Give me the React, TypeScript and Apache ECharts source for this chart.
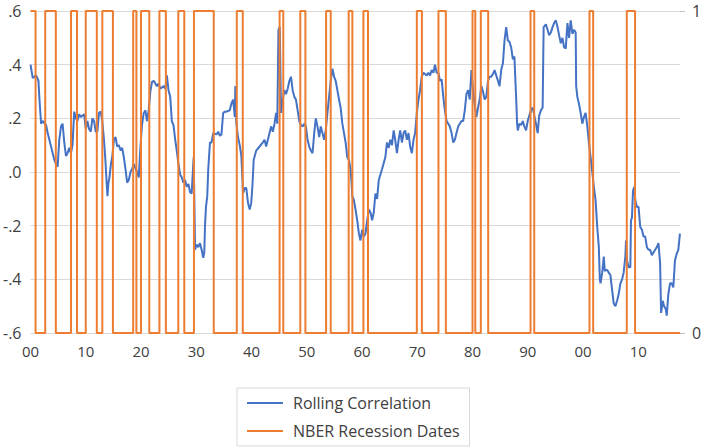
import React, { useEffect, useRef } from "react";
import * as echarts from "echarts";

// Time span shown on the horizontal axis (decimal years)
const xStart = 1900;
const xEnd = 2017.55;

// NBER business-cycle peaks and troughs (year-month)
const recessionPeaks = [
  "1899-06", "1902-09", "1907-05", "1910-01", "1913-01", "1918-08", "1920-01",
  "1923-05", "1926-10", "1929-08", "1937-05", "1945-02", "1948-11", "1953-07",
  "1957-08", "1960-04", "1969-12", "1973-11", "1980-01", "1981-07", "1990-07",
  "2001-03", "2007-12",
];
const recessionTroughs = [
  "1900-12", "1904-08", "1908-06", "1912-01", "1914-12", "1919-03", "1921-07",
  "1924-07", "1927-11", "1933-03", "1938-06", "1945-10", "1949-10", "1954-05",
  "1958-04", "1961-02", "1970-11", "1975-03", "1980-07", "1982-11", "1991-03",
  "2001-11", "2009-06",
];

// Rolling correlation: [decimal year, correlation]
const rollingCorrelation: [number, number][] = [
  [1900.0, 0.4], [1900.41, 0.35], [1901.02, 0.36], [1901.44, 0.34], [1901.62, 0.27],
  [1901.92, 0.18], [1902.21, 0.19], [1902.82, 0.175], [1903.11, 0.145], [1903.72, 0.095],
  [1904.31, 0.045], [1904.62, 0.03], [1904.91, 0.02], [1905.21, 0.12], [1905.52, 0.17],
  [1905.81, 0.18], [1906.11, 0.11], [1906.42, 0.06], [1906.7, 0.07], [1907.01, 0.09],
  [1907.32, 0.07], [1907.6, 0.1], [1907.91, 0.225], [1908.21, 0.2], [1908.5, 0.19],
  [1908.81, 0.215], [1909.11, 0.205], [1909.71, 0.215], [1910.01, 0.16], [1910.3, 0.19],
  [1910.6, 0.16], [1910.91, 0.15], [1911.2, 0.2], [1911.5, 0.19], [1911.81, 0.15],
  [1912.1, 0.15], [1912.4, 0.22], [1912.71, 0.225], [1912.99, 0.19], [1913.3, 0.12],
  [1913.57, 0.04], [1913.75, -0.03], [1913.93, -0.09], [1914.11, -0.04], [1914.29, -0.02],
  [1914.56, 0.03], [1914.79, 0.055], [1915.1, 0.12], [1915.4, 0.13], [1915.69, 0.095],
  [1916.0, 0.1], [1916.3, 0.08], [1916.59, 0.09], [1916.89, 0.055], [1917.2, 0.01],
  [1917.49, -0.04], [1917.79, -0.03], [1918.1, 0.0], [1918.39, 0.01], [1918.69, 0.03],
  [1918.96, 0.015], [1919.29, 0.0], [1919.59, -0.02], [1919.9, 0.095], [1920.18, 0.175],
  [1920.49, 0.22], [1920.8, 0.23], [1921.08, 0.19], [1921.39, 0.23], [1921.69, 0.3],
  [1921.98, 0.335], [1922.29, 0.34], [1922.59, 0.33], [1922.88, 0.32], [1923.19, 0.33],
  [1923.49, 0.31], [1923.78, 0.315], [1924.08, 0.32], [1924.39, 0.31], [1924.68, 0.36],
  [1924.98, 0.305], [1925.29, 0.28], [1925.58, 0.19], [1925.88, 0.175], [1926.19, 0.12],
  [1926.47, 0.08], [1926.78, 0.03], [1927.09, -0.01], [1927.37, -0.02], [1927.68, -0.04],
  [1927.98, -0.03], [1928.27, -0.055], [1928.58, -0.045], [1928.88, -0.075], [1929.17, -0.08],
  [1929.38, 0.0], [1929.53, 0.055], [1929.69, -0.15], [1929.78, -0.29], [1930.07, -0.27],
  [1930.37, -0.28], [1930.68, -0.265], [1930.97, -0.29], [1931.27, -0.32], [1931.45, -0.3],
  [1931.58, -0.2], [1931.76, -0.13], [1931.99, -0.09], [1932.17, 0.01], [1932.48, 0.11],
  [1932.77, 0.11], [1933.07, 0.145], [1933.66, 0.14], [1933.97, 0.15], [1934.27, 0.135],
  [1934.56, 0.14], [1934.87, 0.22], [1935.17, 0.225], [1935.46, 0.225], [1936.07, 0.23],
  [1936.36, 0.255], [1936.67, 0.27], [1936.97, 0.205], [1937.08, 0.32], [1937.26, 0.18],
  [1937.56, 0.13], [1937.87, 0.1], [1938.16, 0.06], [1938.37, -0.03], [1938.46, -0.08],
  [1938.77, -0.06], [1939.06, -0.06], [1939.36, -0.115], [1939.67, -0.14], [1939.95, -0.115],
  [1940.17, -0.05], [1940.39, 0.045], [1940.85, 0.08], [1941.46, 0.095], [1942.06, 0.11],
  [1942.36, 0.12], [1942.65, 0.095], [1942.96, 0.12], [1943.26, 0.145], [1943.55, 0.17],
  [1943.86, 0.15], [1944.16, 0.18], [1944.45, 0.22], [1944.66, 0.18], [1944.88, 0.53],
  [1945.11, 0.54], [1945.35, 0.22], [1945.65, 0.27], [1945.96, 0.305], [1946.24, 0.29],
  [1946.55, 0.31], [1946.86, 0.34], [1947.14, 0.355], [1947.45, 0.305], [1947.75, 0.28],
  [1948.04, 0.27], [1948.35, 0.23], [1948.65, 0.19], [1948.94, 0.175], [1949.25, 0.17],
  [1949.55, 0.18], [1949.84, 0.17], [1950.14, 0.12], [1950.45, 0.095], [1950.74, 0.08],
  [1951.04, 0.07], [1951.35, 0.145], [1951.64, 0.2], [1951.94, 0.17], [1952.25, 0.13],
  [1952.54, 0.17], [1952.84, 0.145], [1953.15, 0.12], [1953.43, 0.155], [1953.74, 0.22],
  [1954.04, 0.28], [1954.33, 0.34], [1954.64, 0.385], [1954.94, 0.355], [1955.23, 0.34],
  [1955.54, 0.305], [1955.84, 0.27], [1956.13, 0.24], [1956.44, 0.18], [1956.74, 0.145],
  [1957.03, 0.11], [1957.33, 0.055], [1957.64, 0.045], [1957.93, 0.01], [1958.14, -0.05],
  [1958.23, -0.09], [1958.54, -0.105], [1958.83, -0.14], [1959.13, -0.18], [1959.44, -0.23],
  [1959.72, -0.255], [1960.03, -0.215], [1960.33, -0.24], [1960.62, -0.23], [1960.93, -0.18],
  [1961.23, -0.14], [1961.52, -0.15], [1961.83, -0.18], [1962.13, -0.15], [1962.42, -0.08],
  [1962.73, -0.1], [1963.03, -0.03], [1963.32, -0.01], [1963.62, 0.01], [1964.22, 0.055],
  [1964.52, 0.11], [1964.83, 0.09], [1965.12, 0.12], [1965.42, 0.1], [1965.73, 0.155],
  [1966.01, 0.12], [1966.32, 0.07], [1966.62, 0.12], [1966.91, 0.155], [1967.22, 0.11],
  [1967.52, 0.145], [1967.81, 0.155], [1968.12, 0.12], [1968.42, 0.145], [1968.71, 0.095],
  [1969.02, 0.07], [1969.32, 0.12], [1969.61, 0.145], [1969.92, 0.22], [1970.22, 0.27],
  [1970.51, 0.305], [1970.81, 0.355], [1971.12, 0.37], [1971.41, 0.365], [1971.71, 0.36],
  [1972.02, 0.37], [1972.31, 0.36], [1972.61, 0.38], [1972.92, 0.37], [1973.2, 0.4],
  [1973.51, 0.37], [1973.82, 0.37], [1974.1, 0.34], [1974.41, 0.345], [1974.71, 0.28],
  [1975.0, 0.23], [1975.31, 0.19], [1975.61, 0.18], [1975.9, 0.17], [1976.21, 0.145],
  [1976.51, 0.11], [1976.8, 0.12], [1977.1, 0.145], [1977.41, 0.17], [1977.7, 0.18],
  [1978.0, 0.19], [1978.31, 0.19], [1978.6, 0.23], [1978.9, 0.29], [1979.21, 0.305],
  [1979.5, 0.27], [1979.8, 0.38], [1980.11, 0.3], [1980.39, 0.25], [1980.7, 0.205],
  [1981.0, 0.24], [1981.29, 0.27], [1981.6, 0.32], [1981.9, 0.3], [1982.19, 0.27],
  [1982.5, 0.28], [1982.8, 0.34], [1983.09, 0.355], [1983.39, 0.355], [1983.7, 0.365],
  [1983.99, 0.38], [1984.29, 0.36], [1984.6, 0.34], [1984.89, 0.32], [1985.19, 0.38],
  [1985.5, 0.405], [1985.79, 0.49], [1986.09, 0.54], [1986.4, 0.49], [1986.68, 0.485],
  [1986.99, 0.465], [1987.3, 0.42], [1987.58, 0.43], [1987.89, 0.28], [1988.07, 0.18],
  [1988.19, 0.155], [1988.48, 0.18], [1988.79, 0.175], [1989.09, 0.19], [1989.38, 0.17],
  [1989.69, 0.155], [1989.99, 0.19], [1990.28, 0.21], [1990.58, 0.23], [1990.89, 0.24],
  [1991.18, 0.21], [1991.48, 0.18], [1991.79, 0.145], [1992.07, 0.21], [1992.38, 0.23],
  [1992.69, 0.24], [1992.87, 0.54], [1993.28, 0.55], [1993.58, 0.53], [1993.87, 0.51],
  [1994.18, 0.52], [1994.48, 0.54], [1994.77, 0.555], [1995.08, 0.565], [1995.38, 0.54],
  [1995.67, 0.51], [1995.98, 0.48], [1996.28, 0.5], [1996.57, 0.465], [1996.87, 0.46],
  [1997.18, 0.555], [1997.47, 0.5], [1997.77, 0.565], [1998.08, 0.515], [1998.37, 0.53],
  [1998.67, 0.52], [1998.76, 0.32], [1998.97, 0.28], [1999.26, 0.255], [1999.57, 0.22],
  [1999.87, 0.18], [2000.17, 0.205], [2000.47, 0.22], [2000.77, 0.17], [2001.06, 0.11],
  [2001.37, 0.055], [2001.67, 0.0], [2001.96, -0.055], [2002.27, -0.105], [2002.57, -0.205],
  [2002.86, -0.28], [2003.04, -0.4], [2003.16, -0.415], [2003.47, -0.375], [2003.76, -0.315],
  [2003.94, -0.37], [2004.06, -0.365], [2004.37, -0.365], [2004.66, -0.375], [2004.96, -0.385],
  [2005.27, -0.44], [2005.55, -0.49], [2005.86, -0.5], [2006.16, -0.48], [2006.46, -0.455],
  [2006.76, -0.415], [2007.07, -0.4], [2007.35, -0.375], [2007.66, -0.315], [2007.78, -0.255],
  [2007.96, -0.33], [2008.25, -0.355], [2008.56, -0.355], [2008.68, -0.18], [2008.86, -0.17],
  [2009.04, -0.07], [2009.28, -0.055], [2009.45, -0.105], [2009.76, -0.13], [2010.05, -0.13],
  [2010.35, -0.205], [2010.66, -0.215], [2010.95, -0.24], [2011.25, -0.24], [2011.56, -0.28],
  [2011.84, -0.29], [2012.15, -0.29], [2012.46, -0.31], [2012.75, -0.3], [2013.05, -0.29],
  [2013.36, -0.28], [2013.65, -0.265], [2013.95, -0.34], [2014.13, -0.525], [2014.43, -0.48],
  [2014.67, -0.5], [2014.97, -0.51], [2015.15, -0.535], [2015.44, -0.455], [2015.75, -0.415],
  [2016.05, -0.415], [2016.34, -0.43], [2016.64, -0.33], [2016.95, -0.305], [2017.24, -0.29],
  [2017.54, -0.23],
];

const toYear = (ym: string) => {
  const [y, m] = ym.split("-").map(Number);
  return y + (m - 1) / 12;
};

// 0/1 recession indicator as a step outline over the shown span
const recessionIndicator = (): [number, number][] => {
  const pts: [number, number][] = [];
  let last = 0;
  recessionPeaks.forEach((p, i) => {
    const s = Math.max(xStart, toYear(p));
    const e = toYear(recessionTroughs[i]);
    if (s <= xStart) {
      pts.push([xStart, 1]);
    } else {
      if (pts.length === 0) pts.push([xStart, 0]);
      pts.push([s, 0], [s, 1]);
    }
    pts.push([e, 1], [e, 0]);
    last = e;
  });
  if (last < xEnd) pts.push([xEnd, 0]);
  return pts;
};

const fmtCorr = (v: number) => {
  const s = (Math.round(v * 10) / 10).toFixed(1);
  return s.replace("0.", ".");
};

export default function App() {
  const ref = useRef<HTMLDivElement>(null);

  useEffect(() => {
    if (!ref.current) return;
    const chart = echarts.init(ref.current, undefined, { renderer: "svg" });
    const font = "'Open Sans', sans-serif";
    chart.setOption({
      animation: false,
      backgroundColor: "#ffffff",
      textStyle: { fontFamily: font },
      grid: { left: 26, right: 25, top: 11, bottom: 115, containLabel: false },
      xAxis: {
        type: "value",
        min: xStart,
        max: xEnd,
        interval: 10,
        axisLine: { show: true, lineStyle: { color: "#d9d9d9", width: 1 } },
        axisTick: { show: false },
        splitLine: { show: false },
        axisLabel: {
          color: "#404040",
          fontSize: 15,
          fontFamily: font,
          margin: 10,
          showMaxLabel: false,
          formatter: (v: number) => String(Math.round(v) % 100).padStart(2, "0"),
        },
      },
      yAxis: [
        {
          type: "value",
          min: -0.6,
          max: 0.6,
          interval: 0.2,
          axisLine: { show: false },
          axisTick: { show: false },
          splitLine: { show: true, lineStyle: { color: "#d9d9d9", width: 1 } },
          axisLabel: {
            color: "#404040",
            fontSize: 16,
            fontFamily: font,
            margin: 9,
            formatter: fmtCorr,
          },
        },
        {
          type: "value",
          position: "right",
          min: 0,
          max: 1,
          interval: 1,
          axisLine: { show: false },
          axisTick: { show: true, length: 5, lineStyle: { color: "#bfbfbf" } },
          splitLine: { show: false },
          axisLabel: {
            color: "#404040",
            fontSize: 16,
            fontFamily: font,
            margin: 12,
          },
        },
      ],
      legend: {
        left: 237,
        top: 388,
        orient: "vertical",
        padding: [6, 10, 6, 10],
        borderColor: "#d9d9d9",
        borderWidth: 1,
        itemWidth: 36,
        itemHeight: 2,
        itemGap: 10,
        icon: "rect",
        textStyle: {
          color: "#404040",
          fontSize: 16,
          fontFamily: font,
          lineHeight: 18,
          padding: [0, 0, 0, 5],
        },
        data: ["Rolling Correlation", "NBER Recession Dates"],
      },
      series: [
        {
          name: "Rolling Correlation",
          type: "line",
          yAxisIndex: 0,
          data: rollingCorrelation,
          showSymbol: false,
          symbol: "none",
          color: "#4472C4",
          lineStyle: { color: "#4472C4", width: 2 },
          z: 2,
        },
        {
          name: "NBER Recession Dates",
          type: "line",
          yAxisIndex: 1,
          data: recessionIndicator(),
          showSymbol: false,
          symbol: "none",
          color: "#ED7D31",
          lineStyle: { color: "#ED7D31", width: 2 },
          z: 3,
        },
      ],
    });
    return () => chart.dispose();
  }, []);

  return (
    <div
      ref={ref}
      style={{ position: "fixed", left: 0, top: 0, width: 705, height: 448, background: "#fff" }}
    />
  );
}
